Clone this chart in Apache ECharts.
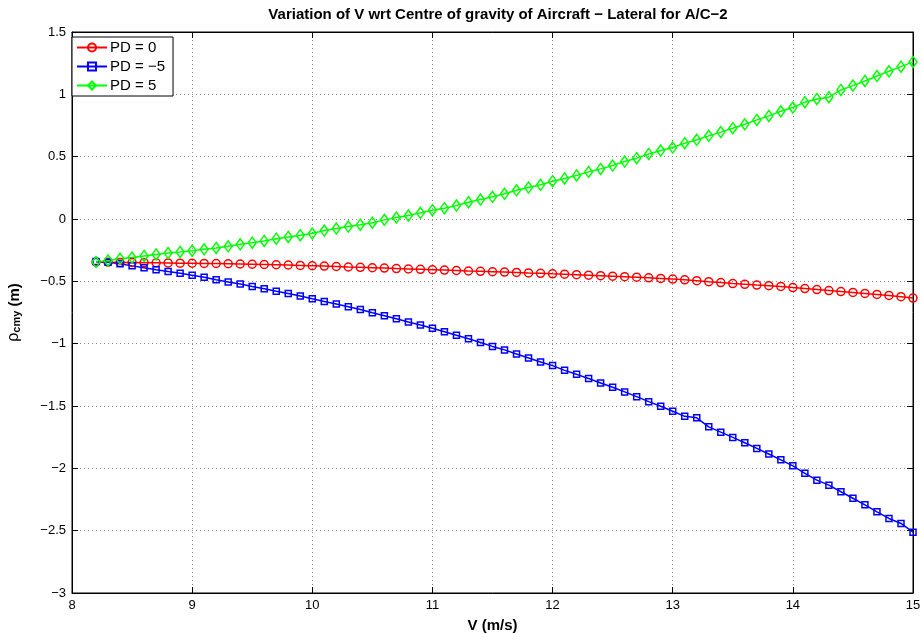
<!DOCTYPE html>
<html>
<head>
<meta charset="utf-8">
<script src="https://cdn.jsdelivr.net/npm/echarts@6/dist/echarts.min.js"></script>
<style>
  html, body { margin: 0; padding: 0; background: #fff; }
  #main { width: 921px; height: 633px; }
</style>
</head>
<body>
<div id="main"></div>
<script>
// V (m/s) sample points
var speeds = [8.2, 8.3, 8.4, 8.5, 8.6, 8.7, 8.8, 8.9, 9.0, 9.1, 9.2, 9.3, 9.4, 9.5, 9.6, 9.7, 9.8, 9.9,
    10.0, 10.1, 10.2, 10.3, 10.4, 10.5, 10.6, 10.7, 10.8, 10.9,
    11.0, 11.1, 11.2, 11.3, 11.4, 11.5, 11.6, 11.7, 11.8, 11.9,
    12.0, 12.1, 12.2, 12.3, 12.4, 12.5, 12.6, 12.7, 12.8, 12.9,
    13.0, 13.1, 13.2, 13.3, 13.4, 13.5, 13.6, 13.7, 13.8, 13.9,
    14.0, 14.1, 14.2, 14.3, 14.4, 14.5, 14.6, 14.7, 14.8, 14.9, 15.0];

// PD = 0
var pd0 = [-0.345, -0.347, -0.349, -0.349, -0.350, -0.351, -0.352, -0.354, -0.355, -0.356, -0.357, -0.359, -0.361, -0.363, -0.365, -0.367, -0.369, -0.372,
    -0.375, -0.378, -0.381, -0.385, -0.388, -0.391, -0.394, -0.398, -0.401, -0.404,
    -0.407, -0.410, -0.413, -0.417, -0.420, -0.423, -0.426, -0.429, -0.433, -0.436,
    -0.440, -0.443, -0.447, -0.451, -0.455, -0.459, -0.463, -0.467, -0.472, -0.477,
    -0.482, -0.488, -0.495, -0.503, -0.510, -0.518, -0.524, -0.530, -0.535, -0.541,
    -0.550, -0.558, -0.566, -0.574, -0.582, -0.589, -0.597, -0.605, -0.613, -0.623, -0.634];

// PD = -5
var pdMinus5 = [-0.340, -0.346, -0.359, -0.376, -0.391, -0.407, -0.422, -0.436, -0.452, -0.468, -0.487, -0.505, -0.522, -0.542, -0.559, -0.580, -0.597, -0.618,
    -0.640, -0.661, -0.682, -0.704, -0.726, -0.752, -0.776, -0.800, -0.826, -0.850,
    -0.877, -0.904, -0.933, -0.960, -0.990, -1.022, -1.050, -1.083, -1.115, -1.147,
    -1.176, -1.214, -1.246, -1.280, -1.315, -1.350, -1.387, -1.425, -1.465, -1.502,
    -1.542, -1.583, -1.595, -1.667, -1.710, -1.752, -1.795, -1.840, -1.885, -1.932,
    -1.980, -2.040, -2.095, -2.135, -2.188, -2.240, -2.293, -2.349, -2.402, -2.442, -2.512];

// PD = 5
var pd5 = [-0.345, -0.332, -0.319, -0.309, -0.296, -0.284, -0.273, -0.264, -0.254, -0.243, -0.232, -0.219, -0.203, -0.190, -0.176, -0.158, -0.144, -0.130,
    -0.117, -0.093, -0.077, -0.061, -0.046, -0.030, -0.007, 0.012, 0.028, 0.050,
    0.071, 0.087, 0.108, 0.135, 0.156, 0.178, 0.202, 0.230, 0.252, 0.274,
    0.303, 0.325, 0.349, 0.378, 0.402, 0.429, 0.461, 0.488, 0.522, 0.549,
    0.573, 0.608, 0.635, 0.667, 0.697, 0.728, 0.760, 0.795, 0.827, 0.864,
    0.894, 0.937, 0.963, 0.977, 1.035, 1.070, 1.107, 1.147, 1.185, 1.222, 1.260];

var seriesNames = ['PD = 0', 'PD = \u22125', 'PD = 5'];

function pairs(ys) {
    var out = [];
    for (var i = 0; i < speeds.length; i++) {
        out.push([speeds[i], ys[i]]);
    }
    return out;
}

function minus(v) {
    return String(v).replace('-', '\u2212');
}

var fontFam = 'Liberation Sans, Arial, Helvetica, sans-serif';

function makeSeries(name, ys, color, symbol, size) {
    return {
        name: name,
        type: 'line',
        xAxisIndex: 0,
        yAxisIndex: 0,
        data: pairs(ys),
        symbol: symbol,
        symbolSize: size,
        showAllSymbol: true,
        lineStyle: { color: color, width: 1.5 },
        itemStyle: { color: 'rgba(255,255,255,0)', borderColor: color, borderWidth: 1.5 },
        emphasis: { disabled: true },
        animation: false
    };
}

var myChart = echarts.init(document.getElementById('main'));
var option = {
    backgroundColor: '#fff',
    title: {
        text: 'Variation of V wrt Centre of gravity of Aircraft \u2212 Lateral for A/C\u22122',
        left: 493,
        textAlign: 'center',
        top: 2,
        textStyle: { fontFamily: fontFam, fontSize: 15, fontWeight: 'bold', color: '#000' }
    },
    legend: {
        orient: 'vertical',
        left: 72,
        top: 37,
        itemWidth: 30,
        itemHeight: 10,
        itemGap: 4,
        padding: [3, 8, 3, 4],
        borderColor: '#000',
        borderWidth: 1,
        backgroundColor: '#fff',
        textStyle: { fontFamily: fontFam, fontSize: 15, color: '#000', padding: [0, 0, 0, -2] },
        data: seriesNames
    },
    grid: {
        left: 72,
        right: 8,
        top: 32,
        bottom: 40,
        containLabel: false,
        outerBoundsMode: 'none',
        show: true,
        borderColor: '#000',
        borderWidth: 1
    },
    xAxis: [{
        type: 'value',
        min: 8,
        max: 15,
        interval: 1,
        name: 'V (m/s)',
        nameLocation: 'middle',
        nameGap: 25,
        nameTextStyle: { fontFamily: fontFam, fontSize: 15, fontWeight: 'bold', color: '#000' },
        axisLine: { onZero: false, lineStyle: { color: '#000' } },
        axisTick: { inside: true, length: 6, lineStyle: { color: '#000' } },
        axisLabel: { fontFamily: fontFam, fontSize: 13, color: '#000', margin: 6 },
        splitLine: { show: true, lineStyle: { color: '#8c8c8c', type: [1, 3], width: 1 } }
    }, {
        type: 'value',
        position: 'top',
        min: 8,
        max: 15,
        interval: 1,
        axisLine: { onZero: false, lineStyle: { color: '#000' } },
        axisTick: { inside: true, length: 6, lineStyle: { color: '#000' } },
        axisLabel: { show: false },
        splitLine: { show: false }
    }],
    yAxis: [{
        type: 'value',
        min: -3,
        max: 1.5,
        interval: 0.5,
        name: '{r|\u03c1}{s|cmy}{m| (m)}',
        nameLocation: 'middle',
        nameRotate: 90,
        nameGap: 50,
        nameTextStyle: {
            color: '#000',
            rich: {
                r: { fontFamily: fontFam, fontSize: 16, color: '#000', lineHeight: 20, verticalAlign: 'bottom' },
                s: { fontFamily: fontFam, fontSize: 11, fontWeight: 'bold', color: '#000', verticalAlign: 'bottom', lineHeight: 12, padding: [9, 0, 0, 0] },
                m: { fontFamily: fontFam, fontSize: 15, fontWeight: 'bold', color: '#000', lineHeight: 20, verticalAlign: 'bottom' }
            }
        },
        axisLine: { onZero: false, lineStyle: { color: '#000' } },
        axisTick: { inside: true, length: 6, lineStyle: { color: '#000' } },
        axisLabel: { fontFamily: fontFam, fontSize: 13, color: '#000', margin: 6, formatter: minus },
        splitLine: { show: true, lineStyle: { color: '#8c8c8c', type: [1, 3], width: 1 } }
    }, {
        type: 'value',
        position: 'right',
        min: -3,
        max: 1.5,
        interval: 0.5,
        axisLine: { onZero: false, lineStyle: { color: '#000' } },
        axisTick: { inside: true, length: 6, lineStyle: { color: '#000' } },
        axisLabel: { show: false },
        splitLine: { show: false }
    }],
    series: [
        makeSeries(seriesNames[0], pd0, '#ff0000', 'circle', 8),
        makeSeries(seriesNames[1], pdMinus5, '#0000ff', 'rect', 6),
        makeSeries(seriesNames[2], pd5, '#00ff00', 'diamond', [8, 11])
    ]
};
myChart.setOption(option);
</script>
</body>
</html>
